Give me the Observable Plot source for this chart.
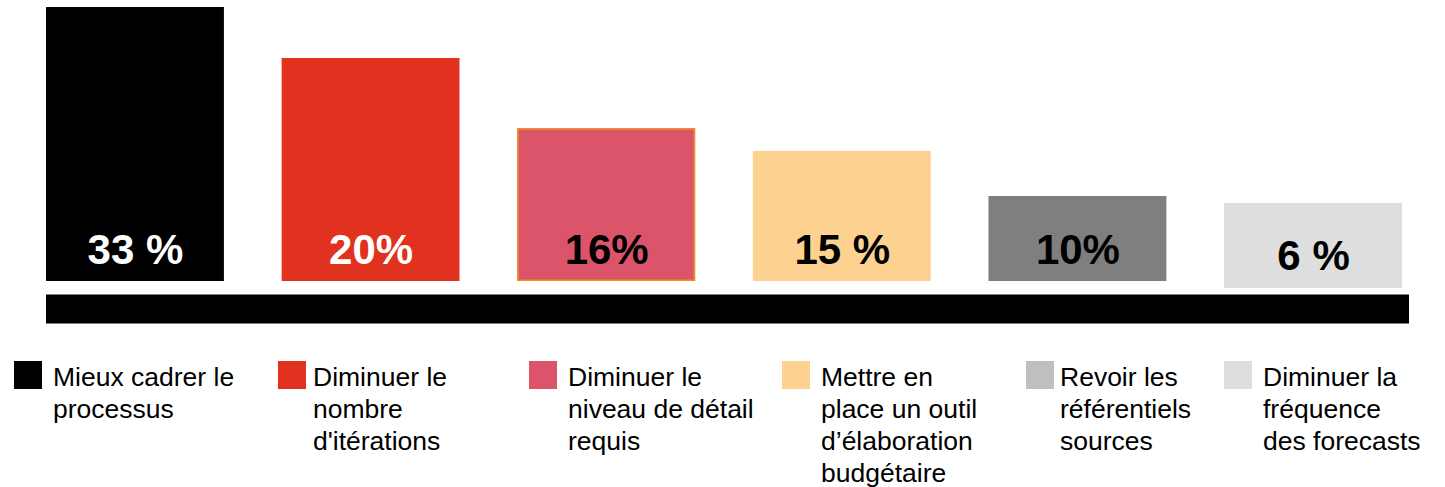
<!DOCTYPE html>
<html>
<head>
<meta charset="utf-8">
<script src="https://cdn.jsdelivr.net/npm/d3@7"></script>
<script src="https://cdn.jsdelivr.net/npm/@observablehq/plot@0.6"></script>
<style>
  html, body { margin: 0; padding: 0; background: #fff; overflow: hidden; width: 1445px; height: 487px; }
  #chart svg { display: block; }
  #legend { position: relative; height: 126px; margin-top: 21px;
    font-family: "Liberation Sans", Arial, sans-serif; font-size: 26.5px; line-height: 32px; color: #000; }
  .sw { position: absolute; top: 0; width: 28px; height: 28px; }
  .lab { position: absolute; top: 0; white-space: pre; }
</style>
</head>
<body>
<div id="chart"></div>
<div id="legend"></div>
<script>
// ---- data ----
const categories = [
  "Mieux cadrer le\nprocessus",
  "Diminuer le\nnombre\nd'itérations",
  "Diminuer le\nniveau de détail\nrequis",
  "Mettre en\nplace un outil\nd’élaboration\nbudgétaire",
  "Revoir les\nréférentiels\nsources",
  "Diminuer la\nfréquence\ndes forecasts"
];
const shares = [33, 20, 16, 15, 10, 6];
const valueLabels = ["33 %", "20%", "16%", "15 %", "10%", "6 %"];
// drawn bar extent as it appears in the picture (same units as shares)
const drawnTop = [33, 26.86, 18.4, 15.66, 10.24, 9.39];
const drawnBottom = [0, 0, 0, 0, 0, -0.84];

// ---- styles ----
const barColors = ["#000000", "#E0321F", "#DC5469", "#FDD290", "#7F7F7F", "#DEDEDE"];
const swatchColors = ["#000000", "#E0321F", "#DC5469", "#FDD290", "#BFBFBF", "#DEDEDE"];
const labelInk = ["#FFFFFF", "#FFFFFF", "#000000", "#000000", "#000000", "#000000"];
const barEdge = [null, null, "#F0901E", null, null, null];
// legend layout (pixels)
const swatchLeft = [14, 278, 529, 782, 1026, 1224];
const textLeft = [53, 313, 568, 821, 1060, 1263];

const rows = categories.map((c, i) => ({
  cat: c, share: shares[i], label: valueLabels[i],
  lo: drawnBottom[i], hi: drawnTop[i],
  fill: barColors[i], ink: labelInk[i], edge: barEdge[i]
}));

const chart = Plot.plot({
  width: 1445,
  height: 340,
  marginLeft: 46,
  marginRight: 43,
  marginTop: 7,
  marginBottom: 59,
  x: { type: "band", domain: categories, paddingInner: 0.245, paddingOuter: 0, round: false, axis: null },
  y: { domain: [0, 33], axis: null },
  color: { type: "identity" },
  marks: [
    Plot.ruleY([0], { stroke: "#000", strokeWidth: 29, dy: 27.5, insetRight: -7 }),
    Plot.barY(rows, { x: "cat", y1: "lo", y2: "hi", fill: "fill" }),
    Plot.barY(rows, { filter: d => d.edge, x: "cat", y1: "lo", y2: "hi", fill: "none",
      stroke: "edge", strokeWidth: 1.5, inset: 0.75 }),
    Plot.text(rows, { x: "cat", y: "lo", text: "label", fill: "ink", dy: -18, lineAnchor: "bottom",
      fontSize: 42, fontWeight: "bold", fontFamily: "Liberation Sans, Arial, sans-serif" })
  ]
});
document.getElementById("chart").appendChild(chart);

const legend = document.getElementById("legend");
categories.forEach((c, i) => {
  const sw = document.createElement("div");
  sw.className = "sw";
  sw.style.left = swatchLeft[i] + "px";
  sw.style.background = swatchColors[i];
  legend.appendChild(sw);
  const lab = document.createElement("div");
  lab.className = "lab";
  lab.style.left = textLeft[i] + "px";
  lab.textContent = c;
  legend.appendChild(lab);
});
</script>
</body>
</html>
